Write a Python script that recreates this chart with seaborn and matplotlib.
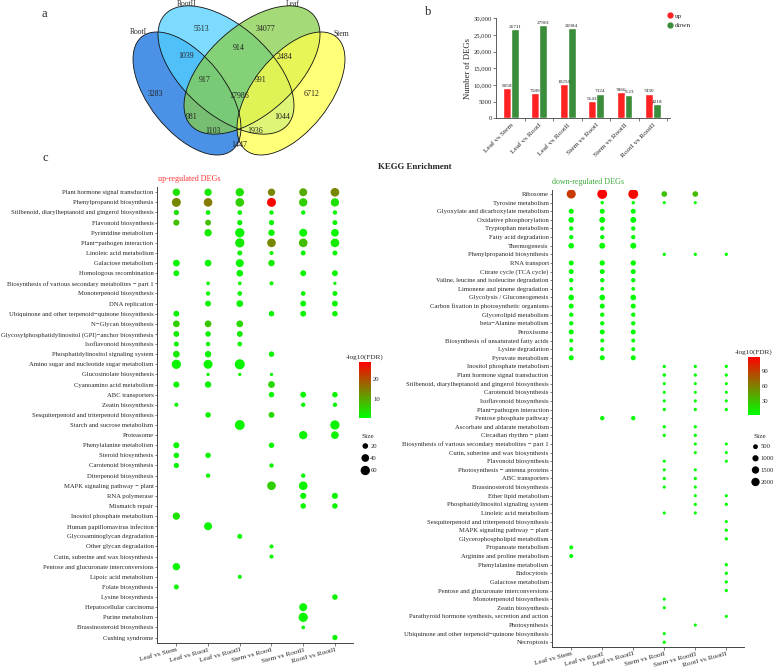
import numpy as np
import pandas as pd
import matplotlib
matplotlib.use("Agg")
import matplotlib.pyplot as plt
from matplotlib.patches import Ellipse
from matplotlib.lines import Line2D
from matplotlib.colors import LinearSegmentedColormap, Normalize
from matplotlib.cm import ScalarMappable
import seaborn as sns

W, H = 777, 667
N = None

# ---- panel a: Venn counts ----
venn_sets = ["RootI", "RootII", "Leaf", "Stem"]
venn_regions = ["RootI", "RootII", "Leaf", "Stem",
                "RootI&RootII", "RootII&Leaf", "Leaf&Stem",
                "RootI&RootII&Leaf", "RootII&Leaf&Stem", "all",
                "RootI&Leaf", "RootII&Stem", "RootI&Leaf&Stem",
                "RootI&RootII&Stem", "RootI&Stem"]
venn_counts = [3283, 5513, 34077, 6712, 1039, 914, 2484, 917, 991, 17986,
               981, 1044, 1103, 1936, 1447]

# ---- panel b: DEG numbers ----
comparisons = ["Leaf vs Stem", "Leaf vs RootI", "Leaf vs RootII",
               "Stem vs RootI", "Stem vs RootII", "RootI vs RootII"]
up_degs = [9058, 7589, 10250, 5143, 7866, 7430]
down_degs = [26711, 27901, 26984, 7324, 7123, 4218]

# ---- panel c: KEGG enrichment, up-regulated ----
up_pathways = [
    "Plant hormone signal transduction",
    "Phenylpropanoid biosynthesis",
    "Stilbenoid, diarylheptanoid and gingerol biosynthesis",
    "Flavonoid biosynthesis",
    "Pyrimidine metabolism",
    "Plant\u2212pathogen interaction",
    "Linoleic acid metabolism",
    "Galactose metabolism",
    "Homologous recombination",
    "Biosynthesis of various secondary metabolites \u2212 part 1",
    "Monoterpenoid biosynthesis",
    "DNA replication",
    "Ubiquinone and other terpenoid\u2212quinone biosynthesis",
    "N\u2212Glycan biosynthesis",
    "Glycosylphosphatidylinositol (GPI)\u2212anchor biosynthesis",
    "Isoflavonoid biosynthesis",
    "Phosphatidylinositol signaling system",
    "Amino sugar and nucleotide sugar metabolism",
    "Glucosinolate biosynthesis",
    "Cyanoamino acid metabolism",
    "ABC transporters",
    "Zeatin biosynthesis",
    "Sesquiterpenoid and triterpenoid biosynthesis",
    "Starch and sucrose metabolism",
    "Proteasome",
    "Phenylalanine metabolism",
    "Steroid biosynthesis",
    "Carotenoid biosynthesis",
    "Diterpenoid biosynthesis",
    "MAPK signaling pathway \u2212 plant",
    "RNA polymerase",
    "Mismatch repair",
    "Inositol phosphate metabolism",
    "Human papillomavirus infection",
    "Glycosaminoglycan degradation",
    "Other glycan degradation",
    "Cutin, suberine and wax biosynthesis",
    "Pentose and glucuronate interconversions",
    "Lipoic acid metabolism",
    "Folate biosynthesis",
    "Lysine biosynthesis",
    "Hepatocellular carcinoma",
    "Purine metabolism",
    "Brassinosteroid biosynthesis",
    "Cushing syndrome",
]
up_count = [
    [36, 36, 47, 36, 43, 51],
    [55, 51, 51, 55, 47, 47],
    [17, 13, 13, 11, 11, 11],
    [24, 22, 17, 17, N, 15],
    [N, 36, 59, 27, 43, 40],
    [N, N, 59, 51, 51, 51],
    [N, N, 15, 9, 15, 15],
    [30, 30, 43, 27, N, N],
    [22, N, 30, N, 22, 22],
    [N, 7, 7, 9, N, 5],
    [N, 11, 13, N, 13, 15],
    [N, 22, 30, N, 22, 22],
    [22, N, N, 19, 22, 19],
    [30, 30, 30, N, N, N],
    [22, 19, 22, N, N, N],
    [15, 11, 13, N, N, N],
    [30, 27, N, 19, N, N],
    [59, 55, 72, N, N, N],
    [N, 5, 5, 5, N, N],
    [24, 27, N, 30, N, N],
    [N, N, N, 19, 22, 19],
    [9, N, N, N, 11, 11],
    [N, 19, N, 22, N, N],
    [N, N, 67, N, N, 59],
    [N, N, N, N, 47, 40],
    [24, N, N, 19, N, N],
    [19, 19, N, N, N, N],
    [17, N, N, 11, N, N],
    [N, 11, N, N, 11, N],
    [N, N, N, 51, 51, N],
    [N, N, N, N, 24, 24],
    [N, N, N, N, 19, 19],
    [36, N, N, N, N, N],
    [N, 43, N, N, N, N],
    [N, N, 15, N, N, N],
    [N, N, N, 9, N, N],
    [N, N, N, 9, N, N],
    [36, N, N, N, N, N],
    [N, N, 9, N, N, N],
    [15, N, N, N, N, N],
    [N, N, N, N, N, 19],
    [N, N, N, N, 43, N],
    [N, N, N, N, 59, N],
    [N, N, N, N, 7, N],
    [N, N, N, N, N, 17],
]
up_fdr = [
    [4, 3, 4, 14, 10, 14],
    [14, 15, 6, 28, 6, 4],
    [4, 2, 2, 2, 2, 2],
    [8, 8, 2, 2, N, 2],
    [N, 3, 2, 2, 2, 2],
    [N, N, 3, 14, 8, 3],
    [N, N, 2, 2, 2, 2],
    [2, 2, 2, 3, N, N],
    [2, N, 2, N, 2, 2],
    [N, 2, 2, 2, N, 2],
    [N, 2, 2, N, 2, 2],
    [N, 2, 2, N, 2, 2],
    [2, N, N, 2, 2, 2],
    [6, 7, 5, N, N, N],
    [3, 2, 3, N, N, N],
    [2, 2, 2, N, N, N],
    [3, 2, N, 2, N, N],
    [2, 2, 2, N, N, N],
    [N, 2, 2, 2, N, N],
    [2, 2, N, 5, N, N],
    [N, N, N, 2, 2, 2],
    [2, N, N, N, 2, 2],
    [N, 2, N, 5, N, N],
    [N, N, 2, N, N, 2],
    [N, N, N, N, 2, 2],
    [2, N, N, 2, N, N],
    [2, 2, N, N, N, N],
    [2, N, N, 2, N, N],
    [N, 2, N, N, 2, N],
    [N, N, N, 6, 2, N],
    [N, N, N, N, 2, 2],
    [N, N, N, N, 2, 2],
    [4, N, N, N, N, N],
    [N, 2, N, N, N, N],
    [N, N, 2, N, N, N],
    [N, N, N, 2, N, N],
    [N, N, N, 2, N, N],
    [2, N, N, N, N, N],
    [N, N, 2, N, N, N],
    [2, N, N, N, N, N],
    [N, N, N, N, N, 2],
    [N, N, N, N, 2, N],
    [N, N, N, N, 2, N],
    [N, N, N, N, 2, N],
    [N, N, N, N, N, 2],
]

# ---- panel c: KEGG enrichment, down-regulated ----
down_pathways = [
    "Ribosome",
    "Tyrosine metabolism",
    "Glyoxylate and dicarboxylate metabolism",
    "Oxidative phosphorylation",
    "Tryptophan metabolism",
    "Fatty acid degradation",
    "Thermogenesis",
    "Phenylpropanoid biosynthesis",
    "RNA transport",
    "Citrate cycle (TCA cycle)",
    "Valine, leucine and isoleucine degradation",
    "Limonene and pinene degradation",
    "Glycolysis / Gluconeogenesis",
    "Carbon fixation in photosynthetic organisms",
    "Glycerolipid metabolism",
    "beta\u2212Alanine metabolism",
    "Peroxisome",
    "Biosynthesis of unsaturated fatty acids",
    "Lysine degradation",
    "Pyruvate metabolism",
    "Inositol phosphate metabolism",
    "Plant hormone signal transduction",
    "Stilbenoid, diarylheptanoid and gingerol biosynthesis",
    "Carotenoid biosynthesis",
    "Isoflavonoid biosynthesis",
    "Plant\u2212pathogen interaction",
    "Pentose phosphate pathway",
    "Ascorbate and aldarate metabolism",
    "Circadian rhythm \u2212 plant",
    "Biosynthesis of various secondary metabolites \u2212 part 1",
    "Cutin, suberine and wax biosynthesis",
    "Flavonoid biosynthesis",
    "Photosynthesis \u2212 antenna proteins",
    "ABC transporters",
    "Brassinosteroid biosynthesis",
    "Ether lipid metabolism",
    "Phosphatidylinositol signaling system",
    "Linoleic acid metabolism",
    "Sesquiterpenoid and triterpenoid biosynthesis",
    "MAPK signaling pathway \u2212 plant",
    "Glycerophospholipid metabolism",
    "Propanoate metabolism",
    "Arginine and proline metabolism",
    "Phenylalanine metabolism",
    "Endocytosis",
    "Galactose metabolism",
    "Pentose and glucuronate interconversions",
    "Monoterpenoid biosynthesis",
    "Zeatin biosynthesis",
    "Parathyroid hormone synthesis, secretion and action",
    "Photosynthesis",
    "Ubiquinone and other terpenoid\u2212quinone biosynthesis",
    "Necroptosis",
]
down_count = [
    [2400, 2900, 2900, 790, 790, N],
    [N, 150, 150, 60, 60, N],
    [560, 560, 560, N, N, N],
    [790, 900, 900, N, N, N],
    [360, 360, 360, N, N, N],
    [360, 360, 360, N, N, N],
    [790, 900, 900, N, N, N],
    [N, N, N, 100, 100, 100],
    [560, 670, 670, N, N, N],
    [560, 560, 560, N, N, N],
    [360, 360, 360, N, N, N],
    [200, 200, 200, N, N, N],
    [790, 790, 790, N, N, N],
    [560, 560, 560, N, N, N],
    [360, 360, 360, N, N, N],
    [360, 360, 360, N, N, N],
    [560, 560, 560, N, N, N],
    [270, 270, 270, N, N, N],
    [270, 270, 270, N, N, N],
    [560, 560, 560, N, N, N],
    [N, N, N, 100, 100, 100],
    [N, N, N, 150, 100, 100],
    [N, N, N, 60, 60, 60],
    [N, N, N, 60, 60, 60],
    [N, N, N, 60, 60, 60],
    [N, N, N, 100, 100, 100],
    [N, 360, 360, N, N, N],
    [N, N, N, 100, 100, N],
    [N, N, N, 100, 100, N],
    [N, N, N, N, 60, 60],
    [N, N, N, N, 60, 60],
    [N, N, N, 60, N, 60],
    [N, N, N, 60, 60, N],
    [N, N, N, 100, 100, N],
    [N, N, N, 60, 60, N],
    [N, N, N, N, 60, 60],
    [N, N, N, N, 100, 100],
    [N, N, N, 60, 60, N],
    [N, N, N, N, N, 60],
    [N, N, N, N, N, 100],
    [N, N, N, N, N, 100],
    [270, N, N, N, N, N],
    [270, N, N, N, N, N],
    [N, N, N, N, N, 100],
    [N, N, N, N, N, 100],
    [N, N, N, N, N, 100],
    [N, N, N, N, N, 100],
    [N, N, N, 60, N, N],
    [N, N, N, 60, N, N],
    [N, N, N, N, N, 60],
    [N, N, N, N, 60, N],
    [N, N, N, 60, N, N],
    [N, N, N, 100, N, N],
]
down_fdr = [
    [92, 118, 114, 30, 33, N],
    [N, 3, 3, 2, 2, N],
    [3, 3, 3, N, N, N],
    [3, 3, 3, N, N, N],
    [3, 3, 3, N, N, N],
    [3, 3, 3, N, N, N],
    [3, 3, 3, N, N, N],
    [N, N, N, 2, 2, 2],
    [3, 3, 3, N, N, N],
    [3, 3, 3, N, N, N],
    [3, 3, 3, N, N, N],
    [3, 3, 3, N, N, N],
    [3, 3, 3, N, N, N],
    [3, 3, 3, N, N, N],
    [3, 3, 3, N, N, N],
    [3, 3, 3, N, N, N],
    [3, 3, 3, N, N, N],
    [3, 3, 3, N, N, N],
    [3, 3, 3, N, N, N],
    [3, 3, 3, N, N, N],
    [N, N, N, 2, 2, 2],
    [N, N, N, 2, 2, 2],
    [N, N, N, 2, 2, 2],
    [N, N, N, 2, 2, 2],
    [N, N, N, 2, 2, 2],
    [N, N, N, 2, 2, 2],
    [N, 3, 3, N, N, N],
    [N, N, N, 2, 2, N],
    [N, N, N, 2, 2, N],
    [N, N, N, N, 2, 2],
    [N, N, N, N, 2, 2],
    [N, N, N, 2, N, 2],
    [N, N, N, 2, 2, N],
    [N, N, N, 2, 2, N],
    [N, N, N, 2, 2, N],
    [N, N, N, N, 2, 2],
    [N, N, N, N, 2, 2],
    [N, N, N, 2, 2, N],
    [N, N, N, N, N, 2],
    [N, N, N, N, N, 2],
    [N, N, N, N, N, 2],
    [3, N, N, N, N, N],
    [3, N, N, N, N, N],
    [N, N, N, N, N, 2],
    [N, N, N, N, N, 2],
    [N, N, N, N, N, 2],
    [N, N, N, N, N, 2],
    [N, N, N, 2, N, N],
    [N, N, N, 2, N, N],
    [N, N, N, N, N, 2],
    [N, N, N, N, 2, N],
    [N, N, N, 2, N, N],
    [N, N, N, 2, N, N],
]
up_size_legend = [20, 40, 60]
down_size_legend = [500, 1000, 1500, 2000]

sns.set_theme(style="ticks")
plt.rcParams["font.family"] = ["Liberation Serif", "DejaVu Serif"]
plt.rcParams["axes.unicode_minus"] = False

fdr_cmap = LinearSegmentedColormap.from_list("fdr", ["#00FF00", "#FF0000"])
SPINE = "#444444"


def box(l, t, r, b):
    """pixel box (left, top, right, bottom) -> figure fraction rect"""
    return [l / W, 1 - b / H, (r - l) / W, (b - t) / H]


def ftext(x, y, s, **kw):
    fig.text(x / W, 1 - y / H, s, **kw)


fig = plt.figure(figsize=(W / 100, H / 100), dpi=100)

# ---------------- a: Venn ----------------
ax_v = fig.add_axes(box(120, 0, 360, 165))
ax_v.set_xlim(120, 360)
ax_v.set_ylim(165, 0)
ax_v.axis("off")
ellipses = {
    "RootI": dict(xy=(187, 93.5), width=145, height=76, angle=51.6, color="#0E6EE0"),
    "RootII": dict(xy=(226, 70), width=165, height=88, angle=42, color="#52D0FF"),
    "Leaf": dict(xy=(252, 70), width=165, height=88, angle=-42, color="#87CE4B"),
    "Stem": dict(xy=(291, 93.5), width=145, height=76, angle=-51.6, color="#FFFF4B"),
}
for name in venn_sets:
    e = ellipses[name]
    ax_v.add_patch(Ellipse(e["xy"], e["width"], e["height"], angle=e["angle"],
                           facecolor=e["color"], alpha=0.75, edgecolor="none"))
for name in venn_sets:
    e = ellipses[name]
    ax_v.add_patch(Ellipse(e["xy"], e["width"], e["height"], angle=e["angle"],
                           fill=False, edgecolor="#111111", linewidth=0.6))
region_pos = {
    "RootI": (155, 94), "RootII": (201, 29), "Leaf": (266, 29), "Stem": (312, 94),
    "RootI&RootII": (186, 56), "RootII&Leaf": (239, 48), "Leaf&Stem": (285, 57),
    "RootI&RootII&Leaf": (205, 80), "RootII&Leaf&Stem": (261, 80), "all": (239, 96),
    "RootI&Leaf": (192, 117), "RootII&Stem": (282, 117), "RootI&Leaf&Stem": (213, 131),
    "RootI&RootII&Stem": (255, 131), "RootI&Stem": (239, 145),
}
for reg, n in zip(venn_regions, venn_counts):
    x, y = region_pos[reg]
    ax_v.text(x, y, str(n), fontsize=5.7, ha="center", va="center", color="#222222")
set_label_pos = {"RootI": (138, 32), "RootII": (187, 4), "Leaf": (293, 4), "Stem": (341, 34)}
for name in venn_sets:
    x, y = set_label_pos[name]
    ax_v.text(x, y, name, fontsize=5.5, ha="center", va="center")

# ---------------- b: bar chart ----------------
ax_b = fig.add_axes(box(496, 18.3, 670, 118.3))
bar_df = pd.DataFrame({
    "comparison": comparisons * 2,
    "DEGs": up_degs + down_degs,
    "direction": ["up"] * len(comparisons) + ["down"] * len(comparisons),
})
sns.barplot(data=bar_df, x="comparison", y="DEGs", hue="direction",
            hue_order=["up", "down"], palette={"up": "#FF2222", "down": "#3A8D3A"},
            width=0.56, saturation=1, legend=False, ax=ax_b)
for cont, vals in zip(ax_b.containers, [up_degs, down_degs]):
    ax_b.bar_label(cont, labels=[str(v) for v in vals], fontsize=3.8, padding=0.3)
ax_b.set_ylim(0, 30000)
ax_b.set_xlim(-0.52, 5.6)
ax_b.set_yticks(range(0, 30001, 5000))
ax_b.set_yticklabels(["0", "5000", "10,000", "15,000", "20,000", "25,000", "30,000"])
ax_b.set_xticks(range(len(comparisons)))
ax_b.set_xticklabels(comparisons, rotation=45, ha="right", rotation_mode="anchor")
ax_b.set_xticks(np.arange(0.5, 5.6, 1), minor=True)
ax_b.tick_params(axis="x", which="major", length=0, labelsize=5.3, pad=3)
ax_b.tick_params(axis="x", which="minor", length=2, width=0.5, color=SPINE)
ax_b.tick_params(axis="y", length=2, width=0.5, color=SPINE, labelsize=4.8, pad=1)
ax_b.set_xlabel("")
ax_b.set_ylabel("Number of DEGs", fontsize=6.2, labelpad=1)
sns.despine(ax=ax_b)
for s in ["left", "bottom"]:
    ax_b.spines[s].set_linewidth(0.6)
    ax_b.spines[s].set_color(SPINE)
handles = [Line2D([], [], marker="o", ls="", color=c, markersize=3.5)
           for c in ["#FF2222", "#3A8D3A"]]
fig.legend(handles, ["up", "down"], loc="upper left", bbox_to_anchor=(662 / W, 1 - 9 / H),
           frameon=False, fontsize=5.2, handletextpad=0.1, labelspacing=0.5,
           borderpad=0, handlelength=1.2)


# ---------------- c: dot plots ----------------
def dot_panel(rect, pathways, counts, fdrs, sizes, size_norm, hue_norm, ylim):
    ax = fig.add_axes(rect)
    rows = []
    for i, name in enumerate(pathways):
        for j, comp in enumerate(comparisons):
            if counts[i][j] is not None:
                rows.append({"pathway": name, "comparison": comp,
                             "count": counts[i][j], "fdr": fdrs[i][j]})
    df = pd.DataFrame(rows)
    df["yi"] = pd.Categorical(df["pathway"], categories=pathways).codes
    df["xi"] = pd.Categorical(df["comparison"], categories=comparisons).codes
    sns.scatterplot(data=df, x="xi", y="yi", size="count", sizes=sizes, size_norm=size_norm,
                    hue="fdr", palette=fdr_cmap, hue_norm=hue_norm,
                    edgecolor="none", linewidth=0, legend=False, ax=ax)
    ax.set_xlim(-0.61, 5.57)
    ax.set_ylim(*ylim)
    ax.set_yticks(range(len(pathways)))
    ax.set_yticklabels(pathways)
    ax.set_xticks(range(len(comparisons)))
    ax.set_xticklabels(comparisons, rotation=15, ha="right", rotation_mode="anchor")
    ax.tick_params(axis="y", length=1.8, width=0.5, color=SPINE, labelsize=4.8, pad=0.8)
    ax.tick_params(axis="x", length=1.8, width=0.5, color=SPINE, labelsize=5.2, pad=1.5)
    ax.set_xlabel("")
    ax.set_ylabel("")
    sns.despine(ax=ax)
    for s in ["left", "bottom"]:
        ax.spines[s].set_linewidth(0.7)
        ax.spines[s].set_color(SPINE)
    return ax


up_sizes, up_norm = (2, 52.4), (0, 70)
down_sizes, down_norm = (4, 52), (0, 3000)
up_hue, down_hue = (0.8, 28.5), (1.4, 118)

dot_panel(box(157, 187.2, 353, 643), up_pathways, up_count, up_fdr,
          up_sizes, up_norm, up_hue, (44.54, -0.5))
dot_panel(box(552.3, 189.7, 744, 647), down_pathways, down_count, down_fdr,
          down_sizes, down_norm, down_hue, (52.55, -0.5))


def colorbar(rect, hue, ticks):
    cax = fig.add_axes(rect)
    sm = ScalarMappable(norm=Normalize(*hue), cmap=fdr_cmap)
    cb = fig.colorbar(sm, cax=cax, ticks=ticks)
    cb.outline.set_visible(False)
    cax.tick_params(length=2, width=0.5, color="white", direction="in", labelsize=4.8, pad=1.5)
    cax.set_title("-log10(FDR)", fontsize=5.2, pad=2.5)


colorbar(box(359, 361.7, 371, 418), up_hue, [10, 20])
colorbar(box(748, 356.7, 760, 415), down_hue, [30, 60, 90])


def draw_size_legend(l, t, r, b, cx, ys, values, sizes, norm, title_x, title_y):
    ax = fig.add_axes(box(l, t, r, b))
    ax.set_xlim(l, r)
    ax.set_ylim(b, t)
    ax.axis("off")
    s = [sizes[0] + (sizes[1] - sizes[0]) * (v - norm[0]) / (norm[1] - norm[0]) for v in values]
    ax.scatter([cx] * len(values), ys, s=s, color="black", linewidths=0)
    for y, v in zip(ys, values):
        ax.text(cx + 5, y, str(v), fontsize=4.8, va="center", ha="left")
    ax.text(title_x, title_y, "Size", fontsize=5.2, ha="center", va="center")


draw_size_legend(355, 428, 395, 478, 365.3, [446, 458, 470.5], up_size_legend,
                 up_sizes, up_norm, 368, 436)
draw_size_legend(745, 428, 777, 490, 755.5, [446.7, 458.3, 470, 482], down_size_legend,
                 down_sizes, down_norm, 760, 436.5)

# ---------------- titles ----------------
ftext(44, 14, "a", fontsize=9, ha="center", va="center")
ftext(428, 12, "b", fontsize=9, ha="center", va="center")
ftext(45, 158, "c", fontsize=9, ha="center", va="center")
ftext(415, 167, "KEGG Enrichment", fontsize=6.4, fontweight="bold", ha="center", va="center")
ftext(189, 179, "up-regulated DEGs", fontsize=5.8, color="#FF3333", ha="center", va="center")
ftext(588, 182.5, "down-regulated DEGs", fontsize=5.8, color="#3DAA3D", ha="center", va="center")

fig.savefig("out.png", dpi=100)
